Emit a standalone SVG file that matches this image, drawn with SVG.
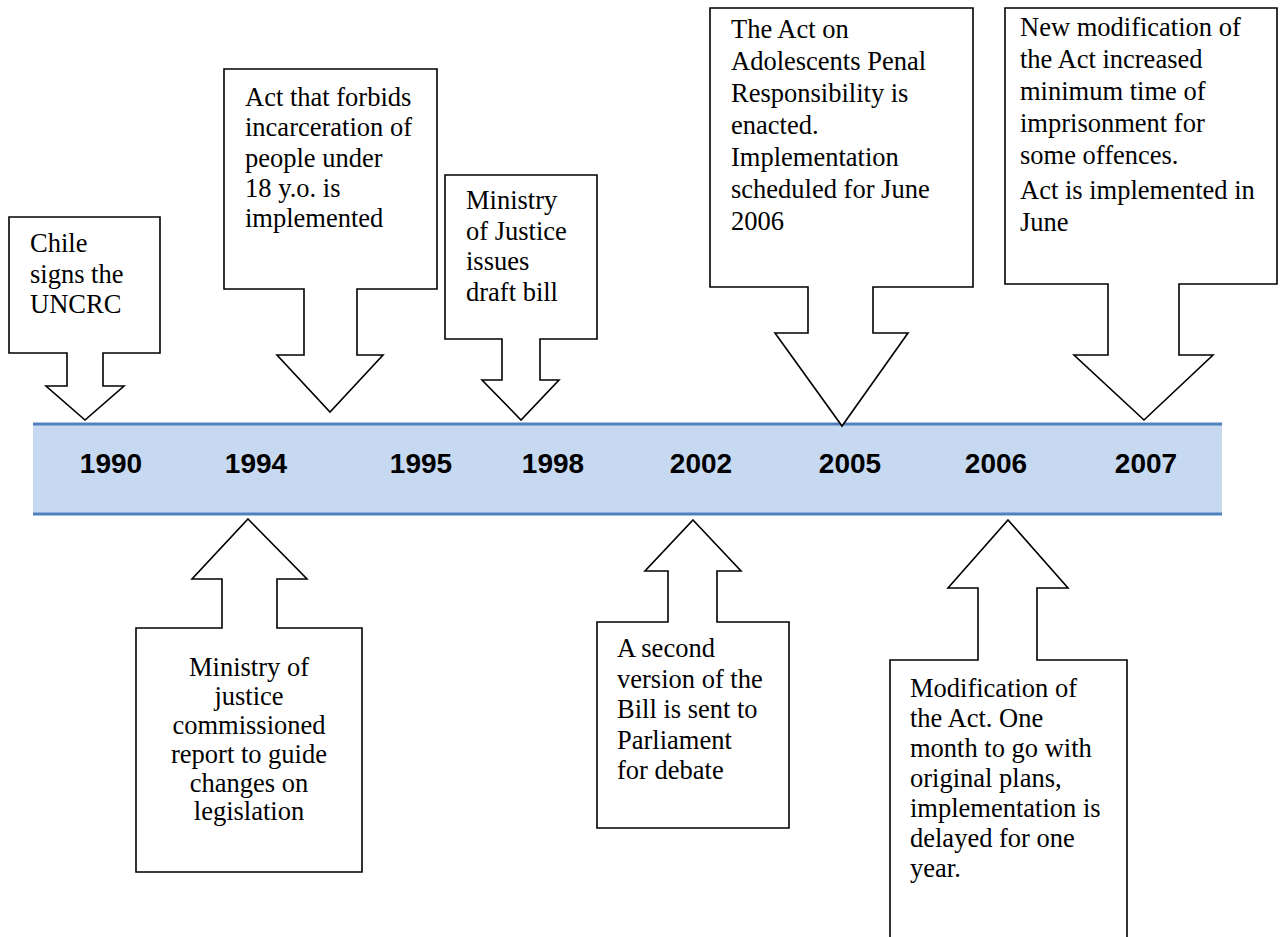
<svg xmlns="http://www.w3.org/2000/svg" width="1280" height="937" viewBox="0 0 1280 937">
<style>
.call{fill:#fff;stroke:#000;stroke-width:1.6;stroke-linejoin:miter}
.t{font-family:"Liberation Serif","Times New Roman",serif;font-size:26.5px;fill:#000}
.yr{font-family:"Liberation Sans",Arial,sans-serif;font-size:28px;font-weight:bold;fill:#000;text-anchor:middle}
.line{stroke:#4f81bd;stroke-width:3}
</style>
<rect width="1280" height="937" fill="#fff"/>
<g id="timeline">
<rect x="33" y="424" width="1189" height="90" fill="#c6d9f1"/>
<line class="line" x1="33" y1="424" x2="1222" y2="424"/>
<line class="line" x1="33" y1="514" x2="1222" y2="514"/>
<text class="yr" x="111" y="473">1990</text>
<text class="yr" x="256" y="473">1994</text>
<text class="yr" x="421" y="473">1995</text>
<text class="yr" x="553" y="473">1998</text>
<text class="yr" x="701" y="473">2002</text>
<text class="yr" x="850" y="473">2005</text>
<text class="yr" x="996" y="473">2006</text>
<text class="yr" x="1146" y="473">2007</text>
</g>
<g id="connectors"></g>
<g id="n1990">
<polygon class="call" points="9,217 160,217 160,353 103,353 103,386 124,386 85,420 46,386 67,386 67,353 9,353"/>
<text class="t"><tspan x="30" y="252">Chile</tspan><tspan x="30" y="283">signs the</tspan><tspan x="30" y="313">UNCRC</tspan></text>
</g>
<g id="n1994top">
<polygon class="call" points="224,69 437,69 437,289 357,289 357,355 383,355 330,412 277,355 304,355 304,289 224,289"/>
<text class="t"><tspan x="245" y="106">Act that forbids</tspan><tspan x="245" y="136">incarceration of</tspan><tspan x="245" y="166.5">people under</tspan><tspan x="245" y="197">18 y.o. is</tspan><tspan x="245" y="227">implemented</tspan></text>
</g>
<g id="n1998">
<polygon class="call" points="445,175 597,175 597,339 540,339 540,380 559,380 521,420 482,380 502,380 502,339 445,339"/>
<text class="t"><tspan x="466" y="209">Ministry</tspan><tspan x="466" y="240">of Justice</tspan><tspan x="466" y="270">issues</tspan><tspan x="466" y="301">draft bill</tspan></text>
</g>
<g id="n2005">
<polygon class="call" points="710,8 973,8 973,287 873,287 873,333 908,333 842,426 775,333 808,333 808,287 710,287"/>
<text class="t"><tspan x="731" y="38">The Act on</tspan><tspan x="731" y="70">Adolescents Penal</tspan><tspan x="731" y="102">Responsibility is</tspan><tspan x="731" y="134">enacted.</tspan><tspan x="731" y="166">Implementation</tspan><tspan x="731" y="198">scheduled for June</tspan><tspan x="731" y="230">2006</tspan></text>
</g>
<g id="n2007">
<polygon class="call" points="1005,8 1277,8 1277,284 1179,284 1179,355 1213,355 1144,420 1074,355 1108,355 1108,284 1005,284"/>
<text class="t"><tspan x="1020" y="36">New modification of</tspan><tspan x="1020" y="68">the Act increased</tspan><tspan x="1020" y="100">minimum time of</tspan><tspan x="1020" y="132">imprisonment for</tspan><tspan x="1020" y="164">some offences.</tspan><tspan x="1020" y="199">Act is implemented in</tspan><tspan x="1020" y="231">June</tspan></text>
</g>
<g id="n1994bottom">
<polygon class="call" points="248,519 307,579 277,579 277,628 362,628 362,872 136,872 136,628 222,628 222,579 192,579"/>
<text class="t" text-anchor="middle"><tspan x="249" y="676">Ministry of</tspan><tspan x="249" y="705">justice</tspan><tspan x="249" y="734">commissioned</tspan><tspan x="249" y="763">report to guide</tspan><tspan x="249" y="792">changes on</tspan><tspan x="249" y="820">legislation</tspan></text>
</g>
<g id="n2002">
<polygon class="call" points="693,520 741,571 717,571 717,622 789,622 789,828 597,828 597,622 668,622 668,571 645,571"/>
<text class="t"><tspan x="617" y="657">A second</tspan><tspan x="617" y="688">version of the</tspan><tspan x="617" y="718">Bill is sent to</tspan><tspan x="617" y="749">Parliament</tspan><tspan x="617" y="779">for debate</tspan></text>
</g>
<g id="n2006">
<polygon class="call" points="1008,520 1068,588 1037,588 1037,660 1127,660 1127,960 890,960 890,660 978,660 978,588 948,588"/>
<text class="t"><tspan x="910" y="697">Modification of</tspan><tspan x="910" y="727">the Act. One</tspan><tspan x="910" y="757">month to go with</tspan><tspan x="910" y="787">original plans,</tspan><tspan x="910" y="817">implementation is</tspan><tspan x="910" y="847">delayed for one</tspan><tspan x="910" y="877">year.</tspan></text>
</g>
</svg>
